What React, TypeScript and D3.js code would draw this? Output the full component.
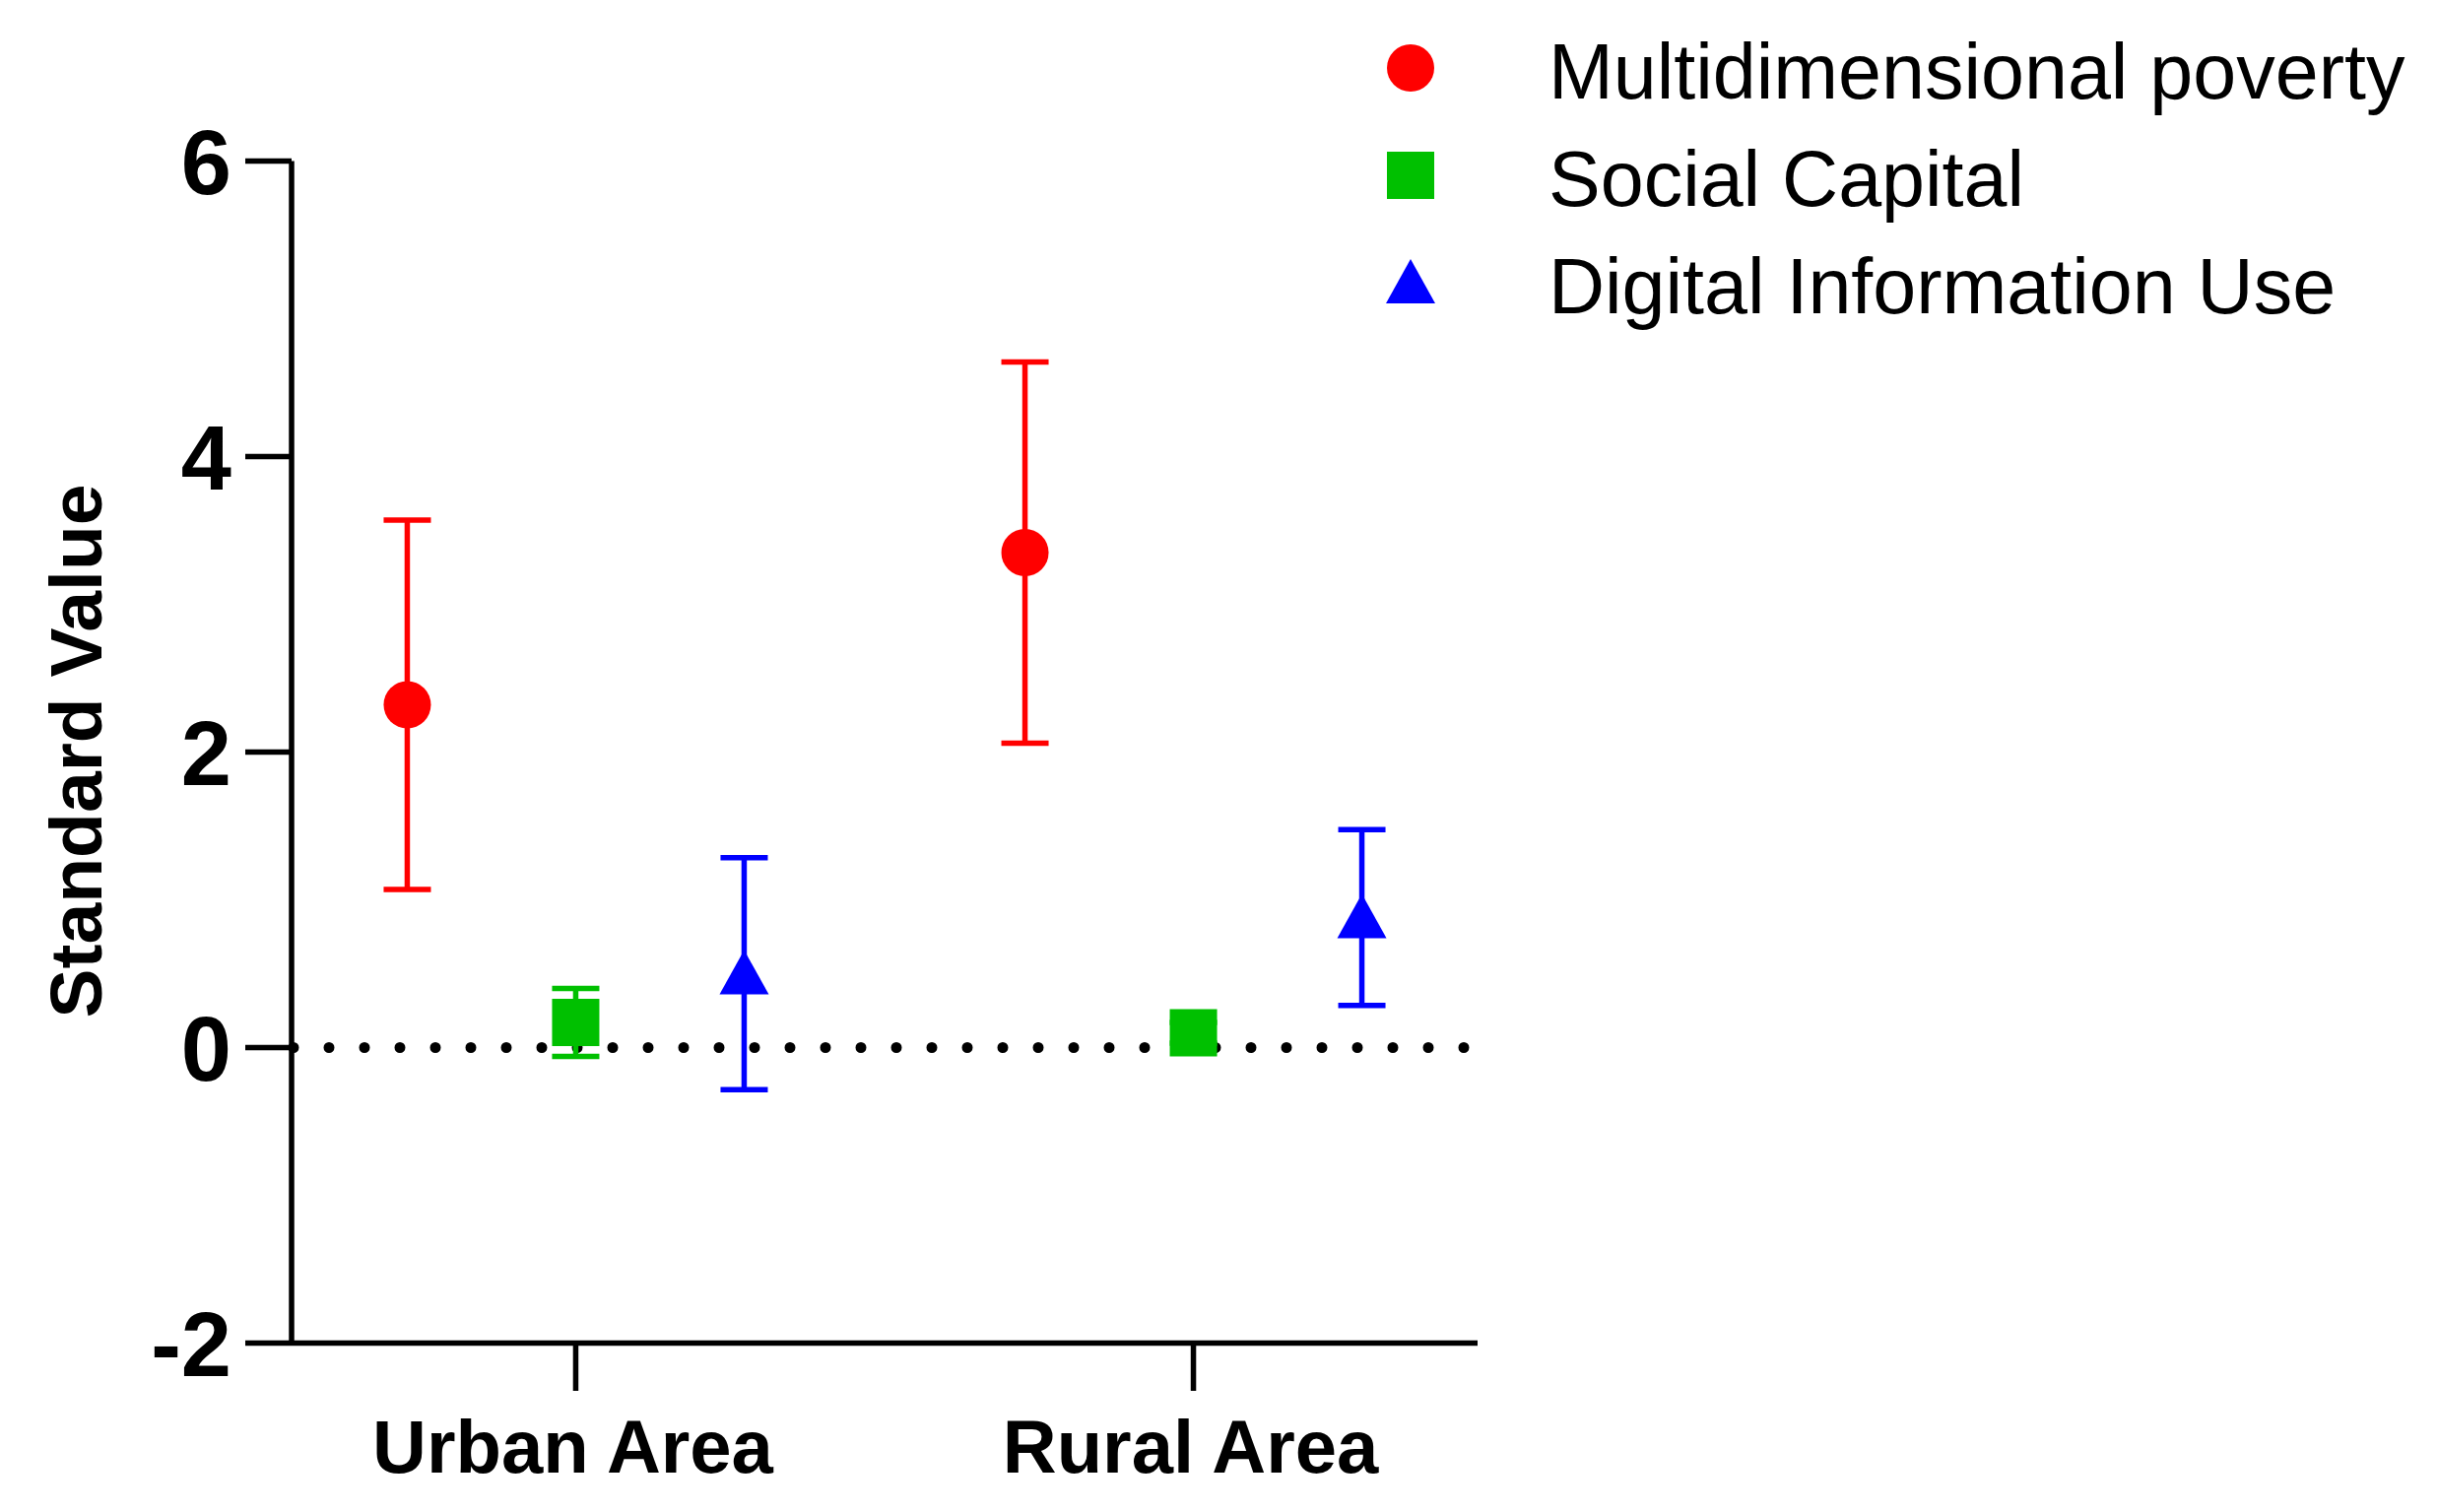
import React from "react";
import * as d3 from "d3";

const categories = ["Urban Area", "Rural Area"];
const seriesNames = ["Multidimensional poverty", "Social Capital", "Digital Information Use"];
const seriesColors = ["#FF0000", "#00C000", "#0000FF"];
const seriesShapes = ["circle", "square", "triangle"];

// means and +/- errors, one entry per category
const povertyMean = [2.32, 3.35];
const povertyErr = [1.25, 1.29];
const socialMean = [0.17, 0.1];
const socialErr = [0.23, 0.07];
const digitalMean = [0.5, 0.88];
const digitalErr = [0.785, 0.595];

const yTicks = [-2, 0, 2, 4, 6];

const W = 2474;
const H = 1535;
const FONT = "Arial, 'Liberation Sans', Helvetica, sans-serif";

const means = [povertyMean, socialMean, digitalMean];
const errs = [povertyErr, socialErr, digitalErr];

function Marker({ shape, x, y, color }: { shape: string; x: number; y: number; color: string }) {
  if (shape === "circle") return <circle cx={x} cy={y} r={24} fill={color} />;
  if (shape === "square") return <rect x={x - 24} y={y - 24} width={48} height={48} fill={color} />;
  const tri = d3.path();
  tri.moveTo(x, y - 24);
  tri.lineTo(x + 25, y + 21);
  tri.lineTo(x - 25, y + 21);
  tri.closePath();
  return <path d={tri.toString()} fill={color} />;
}

export default function App() {
  const axisX = 296;
  const axisEnd = 1500;
  const y = d3.scaleLinear().domain([-2, 6]).range([1363.5, 163.5]);
  const x = d3.scalePoint<string>().domain(categories).range([axisX, axisEnd]).padding(0.46);
  const off = d3.scalePoint<string>().domain(seriesNames).range([-171, 171]);
  const cap = 24;
  const sw = 5.5;

  return (
    <div style={{ position: "absolute", left: 0, top: 0 }}>
      <svg width={W} height={H} style={{ display: "block", background: "#fff" }}>
        {/* zero reference line */}
        <line
          x1={axisX + 2}
          x2={axisEnd}
          y1={y(0)}
          y2={y(0)}
          stroke="#000"
          strokeWidth={11}
          strokeLinecap="round"
          strokeDasharray="0 36"
        />

        {/* error bars */}
        {seriesNames.map((s, si) =>
          categories.map((c, ci) => {
            const cx = x(c)! + off(s)!;
            const hi = y(means[si][ci] + errs[si][ci]);
            const lo = y(means[si][ci] - errs[si][ci]);
            return (
              <g key={s + c} stroke={seriesColors[si]} strokeWidth={sw}>
                <line x1={cx} x2={cx} y1={hi} y2={lo} />
                <line x1={cx - cap} x2={cx + cap} y1={hi} y2={hi} />
                <line x1={cx - cap} x2={cx + cap} y1={lo} y2={lo} />
              </g>
            );
          })
        )}

        {/* markers */}
        {seriesNames.map((s, si) =>
          categories.map((c, ci) => (
            <Marker
              key={"m" + s + c}
              shape={seriesShapes[si]}
              x={x(c)! + off(s)!}
              y={y(means[si][ci])}
              color={seriesColors[si]}
            />
          ))
        )}

        {/* y axis */}
        <line x1={axisX} x2={axisX} y1={y(6)} y2={y(-2) + 2.5} stroke="#000" strokeWidth={sw} />
        {yTicks.map((t) => (
          <g key={t}>
            <line x1={249} x2={axisX} y1={y(t)} y2={y(t)} stroke="#000" strokeWidth={sw} />
            <text
              x={235}
              y={y(t)}
              dy="0.36em"
              textAnchor="end"
              fontFamily={FONT}
              fontWeight="bold"
              fontSize={92}
            >
              {t}
            </text>
          </g>
        ))}
        <text
          transform={`translate(103, ${(y(-2) + y(6)) / 2 - 1}) rotate(-90)`}
          textAnchor="middle"
          fontFamily={FONT}
          fontWeight="bold"
          fontSize={75}
        >
          Standard Value
        </text>

        {/* x axis */}
        <line x1={axisX} x2={axisEnd} y1={y(-2)} y2={y(-2)} stroke="#000" strokeWidth={sw} />
        {categories.map((c) => (
          <g key={c}>
            <line x1={x(c)} x2={x(c)} y1={y(-2)} y2={1412} stroke="#000" strokeWidth={sw} />
            <text
              x={x(c)! - 3}
              y={1495}
              textAnchor="middle"
              fontFamily={FONT}
              fontWeight="bold"
              fontSize={76}
            >
              {c}
            </text>
          </g>
        ))}

        {/* legend */}
        {seriesNames.map((s, si) => {
          const ly = 69 + si * 109;
          return (
            <g key={"l" + s}>
              <Marker shape={seriesShapes[si]} x={1432} y={ly} color={seriesColors[si]} />
              <text x={1572} y={ly + 31} fontFamily={FONT} fontSize={79}>
                {s}
              </text>
            </g>
          );
        })}
      </svg>
    </div>
  );
}
